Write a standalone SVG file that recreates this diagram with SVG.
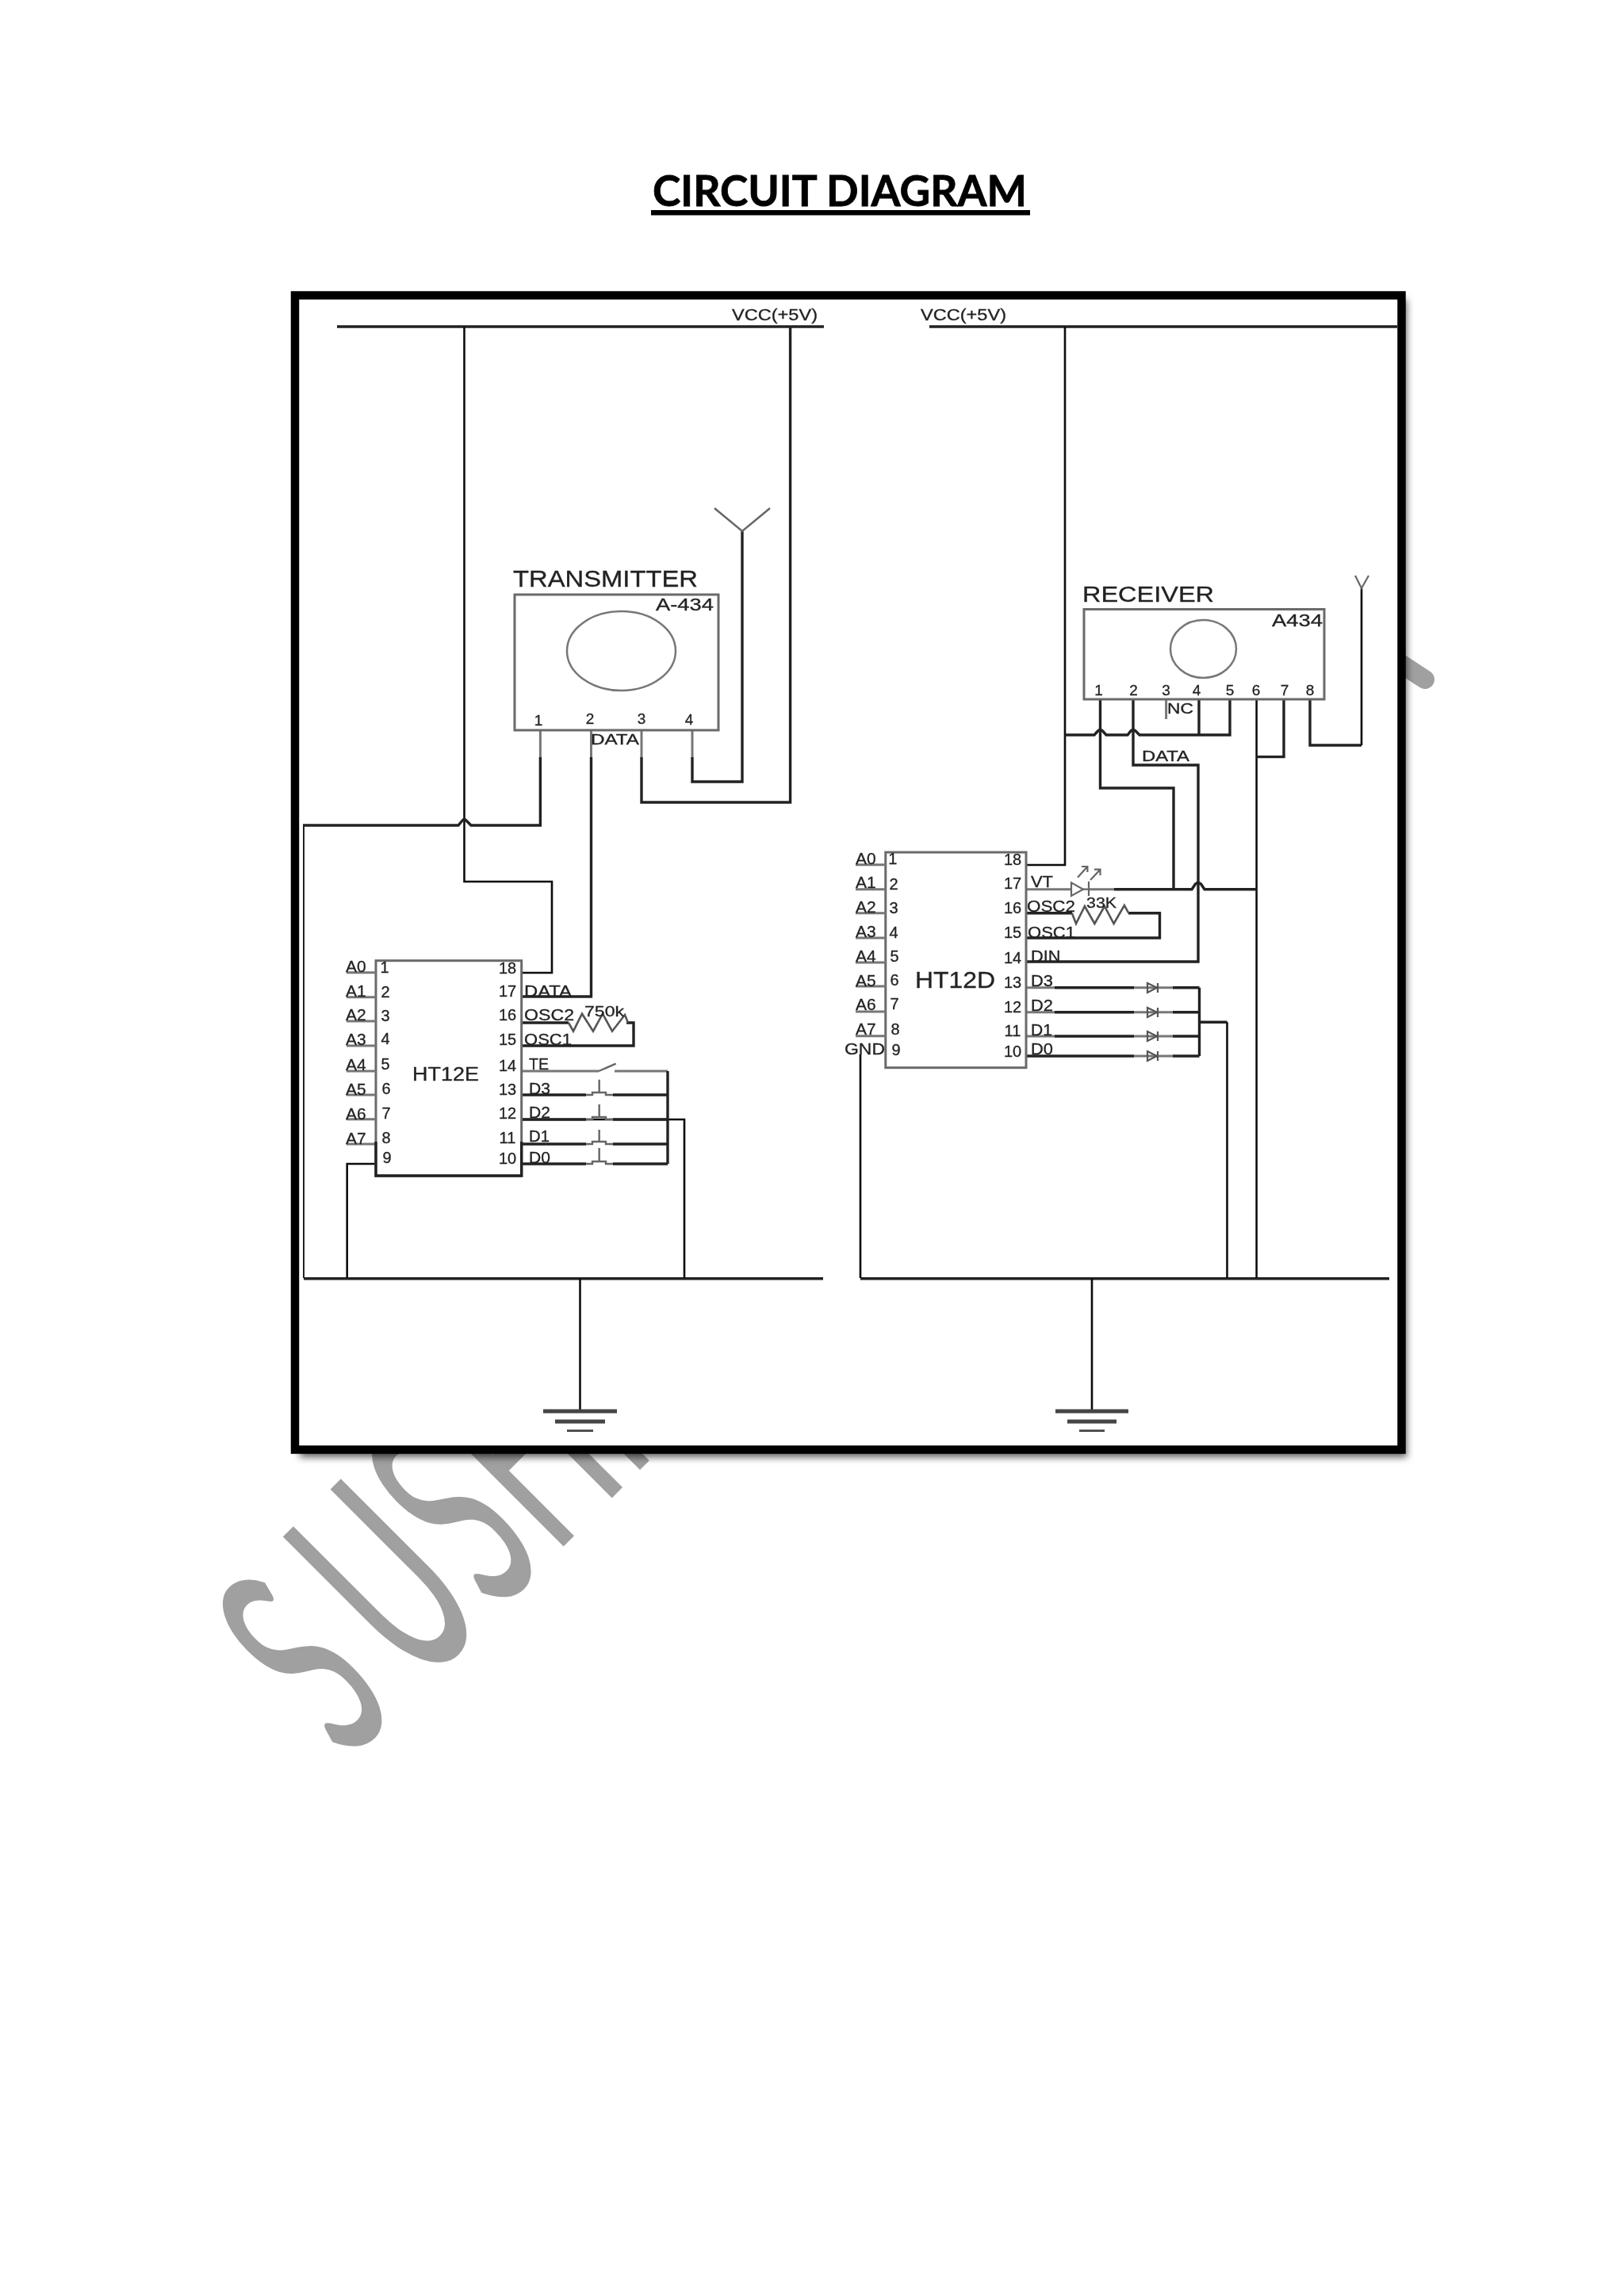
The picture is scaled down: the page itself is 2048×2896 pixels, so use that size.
<svg xmlns="http://www.w3.org/2000/svg" width="2048" height="2896" viewBox="0 0 2048 2896">
<defs>
<filter id="shadow" x="-5%" y="-5%" width="110%" height="110%"><feGaussianBlur stdDeviation="5"/></filter>
<filter id="soft" x="0" y="0" width="100%" height="100%" filterUnits="objectBoundingBox"><feGaussianBlur stdDeviation="0.6"/></filter>
</defs>
<style>
text{font-family:"Liberation Sans",Arial,sans-serif;fill:#222;stroke:#222;stroke-width:0.3}
.k,.g,.b{fill:none;stroke-linejoin:miter}
.k{stroke:#111;stroke-width:2.6}
.b{stroke:#222;stroke-width:3.4}
.g{stroke:#777;stroke-width:3}
.box{fill:#fff;stroke:#6a6a6a;stroke-width:3}
.gnd{stroke:#444;stroke-width:5}
.lb{font-size:21px}
.n{font-size:20px;text-anchor:middle}
.m{font-size:19px;text-anchor:middle}
</style>
<rect width="2048" height="2896" fill="#fff"/>
<g id="watermark">
<text transform="translate(437 2222) rotate(-45) scale(0.5 1)" dx="0 66 10 14 0" style="font-family:Lato,'Open Sans',sans-serif;font-size:357px;fill:#a0a0a0;stroke:#a0a0a0;stroke-width:3">SUSHM</text>
<line x1="1765" y1="836" x2="1797" y2="857" stroke="#a0a0a0" stroke-width="24" stroke-linecap="round"/>
</g>
<rect id="frame-shadow" x="378" y="378" width="1396" height="1460" fill="#000" fill-opacity="0.62" filter="url(#shadow)"/>
<rect id="frame" x="372" y="372.5" width="1395.5" height="1456" fill="#fff" stroke="#000" stroke-width="10.5"/>
<g id="title">
<text x="823" y="260" textLength="472" lengthAdjust="spacingAndGlyphs" style="font-family:Lato,'Open Sans',sans-serif;font-weight:700;font-size:54px;fill:#000;stroke:#000;stroke-width:0.8">CIRCUIT DIAGRAM</text>
<rect x="821" y="265" width="478" height="6.5" fill="#000"/>
</g>
<g id="diagram" filter="url(#soft)">
<g id="connectors">
<path class="b" d="M425 412H1039M1172 412H1762"/>
<text id="vcc-left" x="923" y="404" textLength="108" lengthAdjust="spacingAndGlyphs" style="font-size:20px">VCC(+5V)</text>
<text id="vcc-right" x="1161" y="404" textLength="108" lengthAdjust="spacingAndGlyphs" style="font-size:20px">VCC(+5V)</text>
<path class="k" d="M585.5 412V1112H696V1227H658"/>
<path class="b" d="M996.6 412V1012H809V955"/>
<path class="g" d="M809 921V955M873 921V955M745.5 921V955M681.4 921V955"/>
<path class="b" d="M873 955V986H936V670"/>
<path class="b" d="M681.4 955V1041H594L588 1035Q585.5 1032 583 1035L578 1041H382.3V1612"/>
<path class="b" d="M745.5 955V1257H658"/>
<path class="b" d="M383 1612.7H1038M1085 1612.7H1752"/>
<path class="k" d="M437.7 1612V1468H474M863 1612V1412H658"/>
<path class="k" d="M731.5 1612V1780M1377 1612V1780"/>
<path class="b" d="M658 1319H799V1290H790"/>
<path class="b" d="M658 1290H717"/>
<path class="g" d="M658 1351H755M775 1351H842"/>
<path class="b" d="M842 1351V1468"/>
<path class="b" d="M658 1381H739M773 1381H842M658 1412H739M773 1412H842M658 1443H739M773 1443H842M658 1468H739M773 1468H842"/>
<path class="k" d="M1343 412V1091H1294"/>
<path class="b" d="M1343 927H1380L1384.5 922Q1387.5 919 1390.5 922L1395 927H1422L1426 922Q1429 919 1432 922L1437 927H1551V882M1512 927V882"/>
<path class="g" d="M1470.6 882V907"/>
<path class="b" d="M1387.5 882V994H1480V1121"/>
<path class="b" d="M1429 882V965H1511V1213H1294"/>
<path class="k" d="M1584.6 882V1612"/>
<path class="b" d="M1619 882V954.6H1584.6"/>
<path class="b" d="M1652 882V940H1717"/>
<path class="k" d="M1717 940V742"/>
<path class="g" d="M1294 1121.7H1351M1373 1121.7H1405"/>
<path class="b" d="M1405 1121.7H1503L1507.5 1115Q1511 1112 1514.5 1115L1519 1121.7H1584.6"/>
<path class="b" d="M1294 1151.7H1352M1423 1151.7H1462.5V1183H1294"/>
<path class="g" d="M1294 1245.7H1330M1294 1276.7H1330M1294 1307H1330"/>
<path class="b" d="M1330 1245.7H1430M1478.6 1245.7H1512.5M1330 1276.7H1430M1478.6 1276.7H1512.5M1330 1307H1430M1478.6 1307H1512.5M1294 1332H1430M1478.6 1332H1512.5M1512.5 1245.7V1332"/>
<path class="g" d="M1430 1245.7H1478.6M1430 1276.7H1478.6M1430 1307H1478.6M1430 1332H1478.6"/>
<path class="b" d="M1512.5 1289.3H1547.5"/>
<path class="k" d="M1547.5 1289.3V1612M1085 1330V1612"/>
</g>
<g id="transmitter">
<rect class="box" x="649" y="750" width="257" height="171" style="fill:none"/>
<ellipse cx="783.5" cy="821" rx="68.5" ry="50" fill="none" stroke="#777" stroke-width="2.5"/>
<text x="647" y="739.5" textLength="233" lengthAdjust="spacingAndGlyphs" style="font-size:29px">TRANSMITTER</text>
<text x="827" y="770" textLength="73" lengthAdjust="spacingAndGlyphs" style="font-size:22px">A-434</text>
<text class="m" x="679" y="915">1</text><text class="m" x="744" y="913">2</text><text class="m" x="809" y="913">3</text><text class="m" x="869" y="914">4</text>
<text x="745" y="939" textLength="61" lengthAdjust="spacingAndGlyphs" style="font-size:18px">DATA</text>
</g>
<g id="antenna-tx"><path d="M901 641L936 670L971 641" fill="none" stroke="#666" stroke-width="2.5"/></g>
<g id="receiver">
<rect class="box" x="1367" y="768.5" width="303" height="113.5" style="fill:none"/>
<ellipse cx="1517.5" cy="818.5" rx="41.5" ry="36.5" fill="none" stroke="#777" stroke-width="2.5"/>
<text x="1365" y="758.7" textLength="166" lengthAdjust="spacingAndGlyphs" style="font-size:27px">RECEIVER</text>
<text x="1604" y="789.5" textLength="64" lengthAdjust="spacingAndGlyphs" style="font-size:22px">A434</text>
<text class="m" x="1385.6" y="877">1</text><text class="m" x="1429.5" y="877">2</text><text class="m" x="1470.6" y="877">3</text><text class="m" x="1509" y="877">4</text><text class="m" x="1551" y="877">5</text><text class="m" x="1584" y="877">6</text><text class="m" x="1620" y="877">7</text><text class="m" x="1652" y="877">8</text>
<text x="1472" y="900" textLength="33" lengthAdjust="spacingAndGlyphs" style="font-size:18px">NC</text>
<text x="1440" y="960.4" textLength="60" lengthAdjust="spacingAndGlyphs" style="font-size:18px">DATA</text>
</g>
<g id="antenna-rx"><path d="M1709 726L1717 742L1726 726" fill="none" stroke="#666" stroke-width="2.2"/></g>
<g id="ht12e">
<rect class="box" x="474" y="1211.7" width="183.7" height="271.3"/>
<path class="g" d="M437 1226.7H474M437 1257.7H474M437 1288H474M437 1319H474M437 1351H474M437 1381H474M437 1411.7H474M437 1443H474"/>
<path class="b" d="M474 1440V1483H657.7V1440"/>
<text x="520" y="1362.7" textLength="84" lengthAdjust="spacingAndGlyphs" style="font-size:23px">HT12E</text>
<text class="lb" x="436" y="1225.7">A0</text><text class="lb" x="436" y="1256.7">A1</text><text class="lb" x="436" y="1287">A2</text><text class="lb" x="436" y="1318">A3</text><text class="lb" x="436" y="1350">A4</text><text class="lb" x="436" y="1381">A5</text><text class="lb" x="436" y="1411.7">A6</text><text class="lb" x="436" y="1442.7">A7</text>
<text class="n" x="485" y="1227">1</text><text class="n" x="486" y="1258">2</text><text class="n" x="486" y="1288">3</text><text class="n" x="486" y="1317">4</text><text class="n" x="486" y="1349">5</text><text class="n" x="487" y="1380">6</text><text class="n" x="487" y="1411">7</text><text class="n" x="487" y="1442">8</text><text class="n" x="488" y="1467">9</text>
<text class="n" x="640" y="1228">18</text><text class="n" x="640" y="1257">17</text><text class="n" x="640" y="1287">16</text><text class="n" x="640" y="1318">15</text><text class="n" x="640" y="1351">14</text><text class="n" x="640" y="1381">13</text><text class="n" x="640" y="1411">12</text><text class="n" x="640" y="1442">11</text><text class="n" x="640" y="1468">10</text>
<text class="lb" x="661" y="1257" textLength="60" lengthAdjust="spacingAndGlyphs">DATA</text>
<text class="lb" x="661" y="1287" textLength="63" lengthAdjust="spacingAndGlyphs">OSC2</text>
<text class="lb" x="661" y="1318" textLength="60" lengthAdjust="spacingAndGlyphs">OSC1</text>
<text class="lb" x="667" y="1349" textLength="25" lengthAdjust="spacingAndGlyphs">TE</text>
<text class="lb" x="667" y="1380" textLength="27" lengthAdjust="spacingAndGlyphs">D3</text>
<text class="lb" x="667" y="1410" textLength="27" lengthAdjust="spacingAndGlyphs">D2</text>
<text class="lb" x="667" y="1440" textLength="26" lengthAdjust="spacingAndGlyphs">D1</text>
<text class="lb" x="667" y="1467" textLength="27" lengthAdjust="spacingAndGlyphs">D0</text>
</g>
<g id="r-750k">
<path d="M717 1290L723 1300.7L734 1278.7L748 1300.7L760 1278.7L772 1300.7L788 1280L792 1290" fill="none" stroke="#555" stroke-width="2.6"/>
<text x="737" y="1281.7" textLength="50" lengthAdjust="spacingAndGlyphs" style="font-size:19px">750k</text>
</g>
<g id="switches" fill="none" stroke="#666" stroke-width="2.4">
<path d="M755 1351L776.7 1341.7"/>
<path d="M739 1381H747V1378H764V1381H773M755.7 1378V1361.7"/>
<path d="M739 1412H747V1409H764V1412H773M755.7 1409V1393"/>
<path d="M739 1443H747V1440H764V1443H773M755.7 1440V1425"/>
<path d="M739 1468H747V1465H764V1468H773M755.7 1465V1448"/>
</g>
<g id="ht12d">
<rect class="box" x="1116.8" y="1075" width="177.2" height="271.7"/>
<path class="g" d="M1079 1090.7H1117M1079 1121.7H1117M1079 1151.7H1117M1079 1183H1117M1079 1214H1117M1079 1244H1117M1079 1276H1117M1079 1306.7H1117"/>
<text x="1154" y="1246" textLength="101" lengthAdjust="spacingAndGlyphs" style="font-size:29px">HT12D</text>
<text class="lb" x="1079" y="1089.7">A0</text><text class="lb" x="1079" y="1120">A1</text><text class="lb" x="1079" y="1151">A2</text><text class="lb" x="1079" y="1181.7">A3</text><text class="lb" x="1079" y="1213">A4</text><text class="lb" x="1079" y="1244">A5</text><text class="lb" x="1079" y="1274">A6</text><text class="lb" x="1079" y="1305">A7</text>
<text class="lb" x="1065" y="1330" textLength="51" lengthAdjust="spacingAndGlyphs">GND</text>
<text class="n" x="1125.7" y="1090">1</text><text class="n" x="1127" y="1121.7">2</text><text class="n" x="1127" y="1151.7">3</text><text class="n" x="1127" y="1182.7">4</text><text class="n" x="1128" y="1212.7">5</text><text class="n" x="1128" y="1242.7">6</text><text class="n" x="1128" y="1273">7</text><text class="n" x="1129" y="1305">8</text><text class="n" x="1130" y="1330.7">9</text>
<text class="n" x="1277" y="1090.7">18</text><text class="n" x="1277" y="1120.7">17</text><text class="n" x="1277" y="1151.7">16</text><text class="n" x="1277" y="1183">15</text><text class="n" x="1277" y="1215">14</text><text class="n" x="1277" y="1245.7">13</text><text class="n" x="1277" y="1276.7">12</text><text class="n" x="1277" y="1307">11</text><text class="n" x="1277" y="1333">10</text>
<text class="lb" x="1300" y="1119" textLength="28" lengthAdjust="spacingAndGlyphs">VT</text>
<text class="lb" x="1295" y="1150" textLength="61" lengthAdjust="spacingAndGlyphs">OSC2</text>
<text class="lb" x="1296" y="1182.7" textLength="60" lengthAdjust="spacingAndGlyphs">OSC1</text>
<text class="lb" x="1300" y="1212.7" textLength="37.5" lengthAdjust="spacingAndGlyphs">DIN</text>
<text class="lb" x="1300" y="1244" textLength="28" lengthAdjust="spacingAndGlyphs">D3</text>
<text class="lb" x="1300" y="1275" textLength="28" lengthAdjust="spacingAndGlyphs">D2</text>
<text class="lb" x="1300" y="1306" textLength="27" lengthAdjust="spacingAndGlyphs">D1</text>
<text class="lb" x="1300" y="1330" textLength="28" lengthAdjust="spacingAndGlyphs">D0</text>
</g>
<g id="led" fill="none" stroke="#666" stroke-width="2.2">
<path d="M1351 1113.3V1130L1366 1121.7Z"/>
<path d="M1366 1121.7H1373M1373 1111.7V1130"/>
<path d="M1359 1106.7L1371.4 1093M1364 1093H1371.4V1100M1375 1110L1387.5 1096.7M1380 1096.7H1387.5V1104"/>
</g>
<g id="r-33k">
<path d="M1351.8 1151.7L1357 1165L1367.9 1143L1380.4 1165L1392.9 1143L1404.6 1165L1417.9 1142L1423.2 1151.7" fill="none" stroke="#555" stroke-width="2.6"/>
<text x="1370" y="1145" textLength="38" lengthAdjust="spacingAndGlyphs" style="font-size:19px">33K</text>
</g>
<g id="diodes" fill="none" stroke="#555" stroke-width="2.2">
<path d="M1447 1240V1252L1459 1245.7ZM1460 1240V1252"/>
<path d="M1447 1271V1283L1459 1276.7ZM1460 1271V1283"/>
<path d="M1447 1301V1313L1459 1307ZM1460 1301V1313"/>
<path d="M1447 1326V1338L1459 1332ZM1460 1326V1338"/>
</g>
<g id="ground-left" class="gnd"><path d="M685 1780H778M700 1793H763M715 1805.7H748"/></g>
<g id="ground-right" class="gnd"><path d="M1331 1780H1423M1346 1793H1408M1361 1805.7H1393"/></g>
</g>
</svg>
